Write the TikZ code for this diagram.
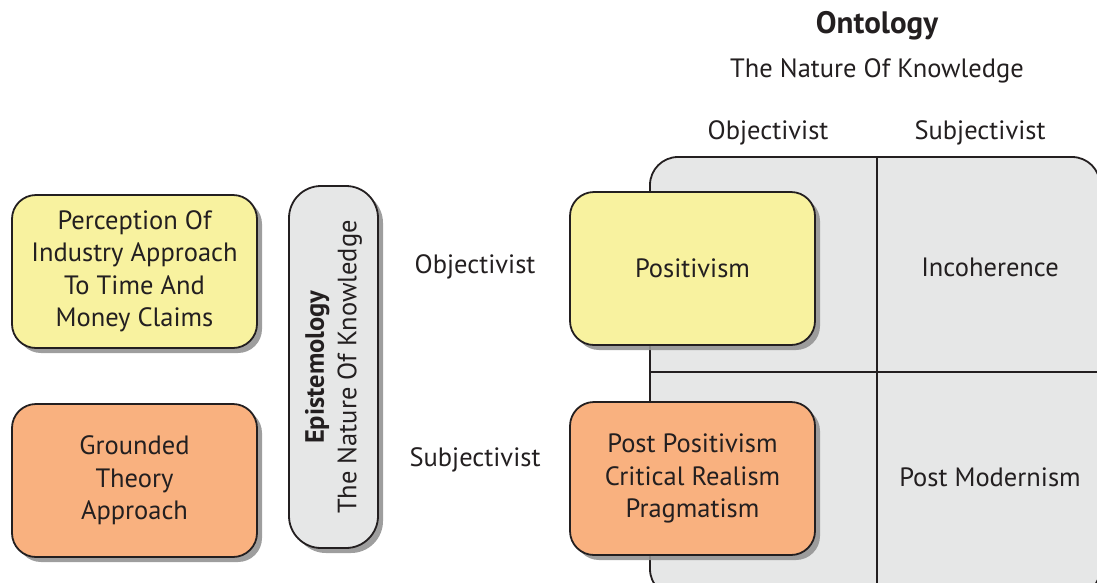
\documentclass[tikz,border=0pt]{standalone}
\usepackage{fontspec}
\setmainfont{PT Sans}
\usetikzlibrary{shadows}
\definecolor{ybox}{HTML}{F8F29F}
\definecolor{obox}{HTML}{F9B17F}
\definecolor{gbox}{HTML}{E6E7E7}
\definecolor{ink}{HTML}{231F20}
\begin{document}
\begin{tikzpicture}[x=1pt,y=-1pt,
  txt/.style={text=ink, font=\fontsize{26.5}{32.5}\selectfont, align=center, inner sep=0pt},
  shad/.style={drop shadow={shadow xshift=5pt, shadow yshift=-5pt, fill=black!42, opacity=0.9}},
  card/.style={draw=ink, line width=1.8pt, rounded corners=24pt, minimum width=245pt, minimum height=153pt, align=center, text=ink, font=\fontsize{26.5}{32.5}\selectfont, shad},
  yellowcard/.style={card, fill=ybox},
  orangecard/.style={card, fill=obox},
]
\useasboundingbox (0,0) rectangle (1097,582);
\begin{scope}
\clip (0,0) rectangle (1097,582);
% ontology panel
\node[draw=ink, fill=gbox, line width=1.8pt, rounded corners=28pt, minimum width=450pt, minimum height=440pt, inner sep=0pt] (panel) at (875,377) {};
\coordinate (vtop) at (877,157);
\coordinate (vbot) at (877,600);
\coordinate (hleft) at (650,372);
\coordinate (hright) at (1100,372);
\draw[ink, line width=1.8pt] (vtop) -- (vbot);
\draw[ink, line width=1.8pt] (hleft) -- (hright);
\end{scope}

\node[txt] (inc) at (990,267) {Incoherence};
\node[txt] (pm) at (990,477) {Post Modernism};

\node[yellowcard] (pos) at (692.5,268.5) {Positivism};
\node[orangecard] (ppos) at (692.5,478.5) {Post Positivism\\Critical Realism\\Pragmatism};

\node[yellowcard] (perc) at (134.5,271.5) {Perception Of\\Industry Approach\\To Time And\\Money Claims};
\node[orangecard] (gt) at (134.5,480.5) {Grounded\\Theory\\Approach};

\node[draw=ink, fill=gbox, line width=1.8pt, rounded corners=32pt, minimum width=89pt, minimum height=362pt, inner sep=0pt, shad] (pill) at (333.5,367) {};
\node[txt, rotate=90] (epi) at (pill.center) {\textbf{Epistemology}\\The Nature Of Knowledge};

\node[txt] (eobj) at (475,267) {Objectivist};
\node[txt] (esub) at (475,460) {Subjectivist};

\node[txt] (oobj) at (768,133) {Objectivist};
\node[txt] (osub) at (980,133) {Subjectivist};

\node[txt, font=\fontsize{31}{34}\selectfont\bfseries] (onto) at (877,26) {Ontology};
\node[txt] (onat) at (877,71) {The Nature Of Knowledge};
\end{tikzpicture}
\end{document}
